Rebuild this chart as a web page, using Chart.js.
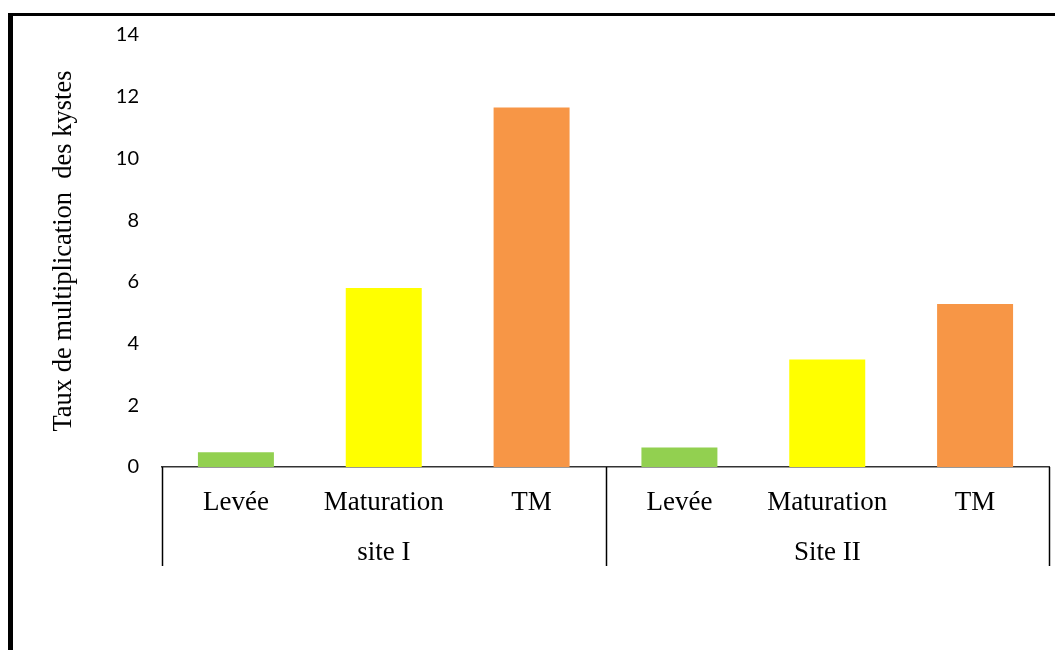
<!DOCTYPE html>
<html>
<head>
<meta charset="utf-8">
<script src="https://cdn.jsdelivr.net/npm/chart.js@4"></script>
<style>
  html, body { margin: 0; padding: 0; background: #fff; }
  #wrap { position: relative; width: 1055px; height: 650px; overflow: hidden; }
  #frame { position: absolute; left: 8px; top: 13px; width: 1200px; height: 800px;
           border-top: 3px solid #000; border-left: 5px solid #000; }
  #chart { position: absolute; left: 0; top: 0; }
</style>
</head>
<body>
<div id="wrap">
  <div id="frame"></div>
  <canvas id="chart" width="1055" height="650"></canvas>
</div>
<script>
// Data
const stages = ['Levée', 'Maturation', 'TM', 'Levée', 'Maturation', 'TM'];
const sites = ['site I', 'Site II'];
const siteSizes = [3, 3];
const rates = [0.48, 5.8, 11.65, 0.63, 3.48, 5.28];
const barColors = ['#92D050', '#FFFF00', '#F79646', '#92D050', '#FFFF00', '#F79646'];
const yTicks = [0, 2, 4, 6, 8, 10, 12, 14];

// vertical separators under the x axis, between the site groups
const groupLines = {
  id: 'groupLines',
  afterDraw(chart) {
    const x = chart.scales.x;
    const x2 = chart.scales.x2;
    const ctx = chart.ctx;
    const half = (x.getPixelForValue(1) - x.getPixelForValue(0)) / 2;
    const edges = [0];
    siteSizes.reduce((acc, n) => { edges.push(acc + n); return acc + n; }, 0);
    ctx.save();
    ctx.strokeStyle = '#000';
    ctx.lineWidth = 1.5;
    edges.forEach(i => {
      const px = Math.round(i < stages.length ? x.getPixelForValue(i) - half : x.getPixelForValue(i - 1) + half) + 0.5;
      ctx.beginPath();
      ctx.moveTo(px, chart.chartArea.bottom);
      ctx.lineTo(px, x2.bottom);
      ctx.stroke();
    });
    ctx.restore();
  }
};

new Chart(document.getElementById('chart'), {
  type: 'bar',
  data: {
    labels: stages,
    datasets: [{
      data: rates,
      backgroundColor: barColors,
      borderWidth: 0,
      categoryPercentage: 1,
      barPercentage: 0.514
    }]
  },
  options: {
    responsive: false,
    animation: false,
    layout: { padding: { left: 40, right: 6, top: 33, bottom: 84 } },
    plugins: {
      legend: { display: false },
      tooltip: { enabled: false }
    },
    scales: {
      x: {
        position: 'bottom',
        grid: { display: false, drawTicks: false },
        border: { display: true, color: '#333', width: 1.5 },
        ticks: {
          color: '#000',
          padding: 20,
          maxRotation: 0,
          autoSkip: false,
          font: { family: '"Liberation Serif", "Times New Roman", serif', size: 27 }
        },
        afterFit(s) { s.height = 55; }
      },
      x2: {
        type: 'category',
        position: 'bottom',
        labels: sites,
        offset: true,
        grid: { display: false, drawTicks: false },
        border: { display: false },
        ticks: {
          color: '#000',
          padding: 15,
          maxRotation: 0,
          font: { family: '"Liberation Serif", "Times New Roman", serif', size: 27 }
        },
        afterFit(s) { s.height = 44; }
      },
      y: {
        min: 0,
        max: 14,
        grid: { display: false, drawTicks: false },
        border: { display: false },
        afterBuildTicks(s) { s.ticks = yTicks.map(v => ({ value: v })); },
        ticks: {
          color: '#000',
          padding: 23,
          font: { family: 'Lato, "Open Sans", sans-serif', size: 20 }
        },
        title: {
          display: true,
          text: 'Taux de multiplication  des kystes',
          color: '#000',
          padding: { top: 8, bottom: 0 },
          font: { family: '"Liberation Serif", "Times New Roman", serif', size: 26.5, weight: 'normal' }
        },
        afterFit(s) { s.width = 122; }
      }
    }
  },
  plugins: [groupLines]
});
</script>
</body>
</html>
